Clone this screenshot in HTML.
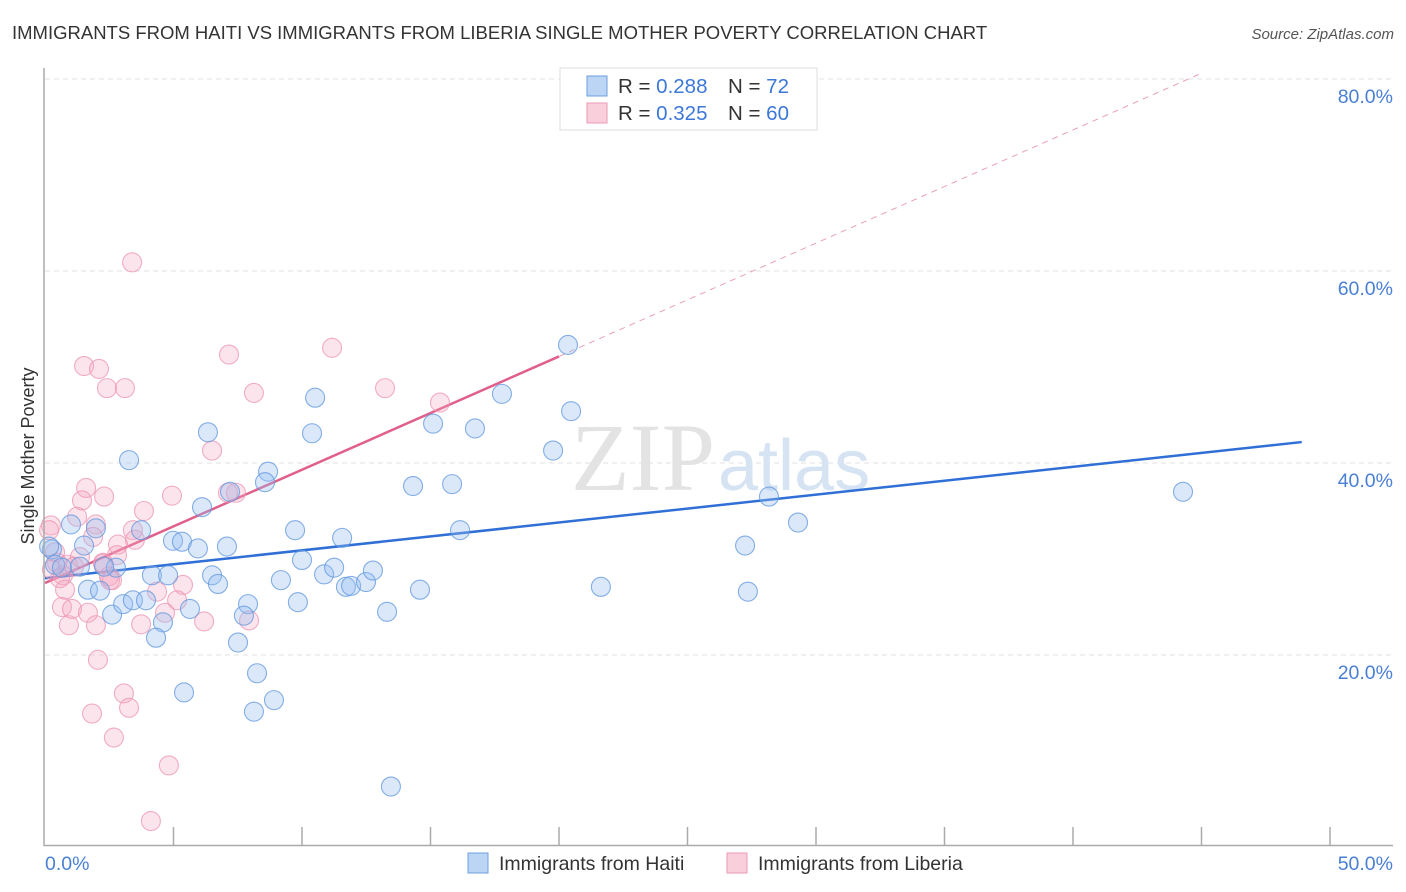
<!DOCTYPE html>
<html><head><meta charset="utf-8"><style>
body{margin:0;background:#fff;font-family:"Liberation Sans",sans-serif;}
#wrap{position:relative;width:1406px;height:892px;overflow:hidden;}
</style></head><body><div id="wrap">
<svg id="svg" width="1406" height="892" xmlns="http://www.w3.org/2000/svg">
<text x="12" y="39" font-size="18.5" fill="#333">IMMIGRANTS FROM HAITI VS IMMIGRANTS FROM LIBERIA SINGLE MOTHER POVERTY CORRELATION CHART</text>
<text x="1394" y="39" font-size="15" fill="#555" font-style="italic" text-anchor="end">Source: ZipAtlas.com</text>
<g id="grid"></g>
<text x="715" y="490" font-size="96" fill="#e3e3e3" font-family="Liberation Serif" text-anchor="end">ZIP</text>
<text x="718" y="490" font-size="72" fill="#d6e3f3">atlas</text>
<g id="trend"></g>
<g id="pts"></g>
<line x1="44" y1="68" x2="44" y2="846" stroke="#aaa" stroke-width="1.5"/>
<line x1="44" y1="845.5" x2="1393" y2="845.5" stroke="#aaa" stroke-width="1.5"/>
<g id="ticks"></g>
<text transform="translate(34,456) rotate(-90)" font-size="18" fill="#333" text-anchor="middle">Single Mother Poverty</text>
<g>
<rect x="560" y="68" width="257" height="62" fill="#fff" stroke="#ddd"/>
<rect x="587" y="76" width="20" height="20" fill="#bcd5f5" stroke="#6d9ee0"/>
<rect x="587" y="103" width="20" height="20" fill="#f9cfdc" stroke="#ec9ab5"/>
<text x="618" y="93" font-size="20.5" fill="#333">R = <tspan fill="#3b78d8">0.288</tspan><tspan x="728">N = </tspan><tspan fill="#3b78d8">72</tspan></text>
<text x="618" y="120" font-size="20.5" fill="#333">R = <tspan fill="#3b78d8">0.325</tspan><tspan x="728">N = </tspan><tspan fill="#3b78d8">60</tspan></text>
</g>
<g>
<rect x="468" y="853" width="20" height="20" fill="#bcd5f5" stroke="#6d9ee0"/>
<text x="499" y="870" font-size="19.5" fill="#333">Immigrants from Haiti</text>
<rect x="727" y="853" width="20" height="20" fill="#f9cfdc" stroke="#ec9ab5"/>
<text x="758" y="870" font-size="19.5" fill="#333">Immigrants from Liberia</text>
</g>
</svg></div>
<script>
const haitiX=[20.35,20.47,17.78,16.73,15.10,15.84,14.32,16.15,19.77,21.63,28.17,27.24,29.30,27.35,44.28,10.51,10.39,8.68,8.56,7.20,6.34,6.11,3.27,3.74,1.98,1.01,1.52,0.27,0.39,0.66,1.67,2.14,2.76,2.61,3.04,3.42,3.93,4.16,4.79,4.98,5.33,5.95,7.08,6.50,6.73,4.59,4.32,5.64,7.90,7.74,7.51,8.25,8.13,8.91,5.41,9.18,9.84,9.73,10.00,10.86,11.25,11.56,11.71,11.91,12.49,12.76,13.31,14.59,13.46,2.30,1.36,0.16];
const haitiY=[52.3,45.4,47.2,43.6,44.1,37.8,37.6,33.0,41.3,27.1,36.5,31.4,33.8,26.6,37.0,46.8,43.1,39.1,38.0,37.0,43.2,35.4,40.3,33.0,33.2,33.6,31.4,31.0,29.4,29.1,26.8,26.7,29.1,24.2,25.3,25.7,25.7,28.3,28.3,31.9,31.8,31.1,31.3,28.3,27.4,23.4,21.8,24.8,25.3,24.1,21.3,18.1,14.1,15.3,16.1,27.8,25.5,33.0,29.9,28.4,29.1,32.2,27.1,27.2,27.6,28.8,24.5,26.8,6.3,29.2,29.2,31.3];
const liberiaX=[3.39,1.52,2.10,2.41,3.11,7.16,11.17,8.13,13.23,15.37,6.50,7.43,7.12,1.60,1.44,2.30,1.25,1.98,4.94,3.85,3.42,2.84,1.87,1.36,0.23,0.39,0.47,0.70,0.78,0.66,0.93,1.05,1.67,1.98,2.49,2.26,2.61,4.36,5.37,5.14,4.67,3.74,6.19,7.94,2.06,3.07,3.27,1.83,2.68,4.82,4.12,0.16,0.27,0.58,0.89,1.13,2.26,2.80,3.50,2.53];
const liberiaY=[60.9,50.1,49.8,47.8,47.8,51.3,52.0,47.3,47.8,46.3,41.3,36.9,36.9,37.4,36.1,36.5,34.4,33.6,36.6,35.0,33.0,31.5,32.3,30.2,33.5,30.7,29.6,28.3,26.8,25.0,23.1,24.8,24.4,23.1,28.2,29.5,27.8,26.6,27.3,25.7,24.4,23.2,23.5,23.6,19.5,16.0,14.5,13.9,11.4,8.5,2.7,33.0,28.9,28.0,29.4,29.2,29.6,30.4,32.0,27.8];
const yTicks=[20,40,60,80];
const yTickLabels=["20.0%","40.0%","60.0%","80.0%"];
const xTickVals=[5,10,15,20,25,30,35,40,45,50];
const haitiTrend=[28.0,0.29];
const liberiaTrend=[27.5,1.18];
const NS="http://www.w3.org/2000/svg";
const sx=v=>45+v*25.7, sy=v=>847-v*9.6;
function mk(tag,attrs,parent){const e=document.createElementNS(NS,tag);for(const k in attrs)e.setAttribute(k,attrs[k]);document.getElementById(parent).appendChild(e);return e;}
yTicks.forEach((t,i)=>{
 const g=mk('line',{x1:45,x2:1393,y1:sy(t),y2:sy(t),stroke:'#e2e2e2','stroke-dasharray':'5,4'},'grid');
 
 
 const l=mk('text',{x:1393,y:sy(t)+24,'font-size':19.5,fill:'#4a7fd4','text-anchor':'end'},'grid');
 l.textContent=yTickLabels[i];
 
 
});
xTickVals.forEach(t=>{
 const k=mk('line',{x1:sx(t),x2:sx(t),y1:827,y2:845,stroke:'#aaa','stroke-width':1.5},'ticks');
 
 
});
const x0=mk('text',{x:45,y:870,'font-size':19.5,fill:'#4a7fd4'},'ticks');x0.textContent='0.0%';


const x1=mk('text',{x:1393,y:870,'font-size':19.5,fill:'#4a7fd4','text-anchor':'end'},'ticks');x1.textContent='50.0%';


function pts(X,Y,fill,stroke,name){X.forEach((x,i)=>{
 const c=mk('circle',{cx:sx(x),cy:sy(Y[i]),r:9.5,fill:fill,stroke:stroke,'stroke-width':1.1,'stroke-opacity':0.75},'pts');
 
 
});}
pts(liberiaX,liberiaY,'rgba(245,165,192,0.3)','#ec94b2','liberia-point');
pts(haitiX,haitiY,'rgba(150,190,240,0.35)','#5f96dd','haiti-point');
const f=(t,x)=>t[0]+t[1]*x;
let tl=mk('line',{x1:sx(0),y1:sy(f(haitiTrend,0)),x2:sx(48.9),y2:sy(f(haitiTrend,48.9)),stroke:'#2f6fd6','stroke-width':2.5},'trend');


tl=mk('line',{x1:sx(0),y1:sy(f(liberiaTrend,0)),x2:sx(20),y2:sy(f(liberiaTrend,20)),stroke:'#e0608a','stroke-width':2.5},'trend');


tl=mk('line',{x1:sx(20),y1:sy(f(liberiaTrend,20)),x2:sx(44.9),y2:sy(f(liberiaTrend,44.9)),stroke:'#e8a0b8','stroke-width':1,'stroke-dasharray':'6,5'},'trend');


</script></body></html>
